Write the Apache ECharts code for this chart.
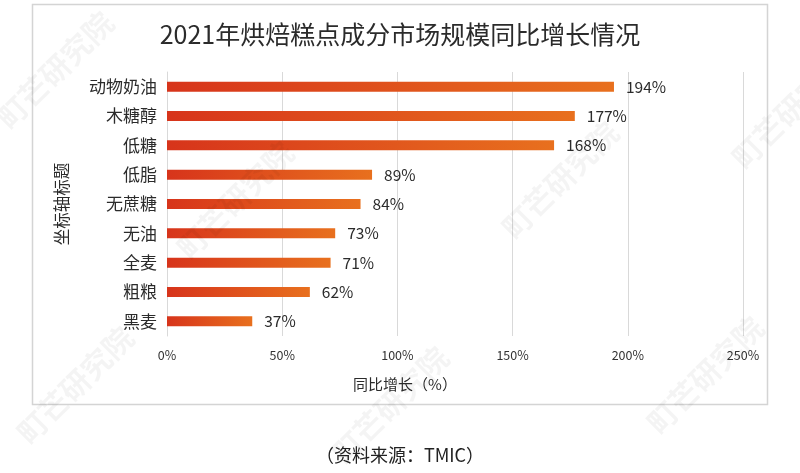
<!DOCTYPE html>
<html>
<head>
<meta charset="utf-8">
<script src="https://cdn.jsdelivr.net/npm/echarts@6/dist/echarts.min.js"></script>
<style>
html,body{margin:0;padding:0;background:#fff;}
#c{width:800px;height:473px;}
</style>
</head>
<body>
<div id="c"></div>
<script>
const categories = ['动物奶油','木糖醇','低糖','低脂','无蔗糖','无油','全麦','粗粮','黑麦'];
const growth = [194, 177, 168, 89, 84, 73, 71, 62, 37];
const xTicks = [0, 50, 100, 150, 200, 250];
const titleText = '2021年烘焙糕点成分市场规模同比增长情况';
const yName = '坐标轴标题';
const xName = '同比增长（%）';
const sourceText = '（资料来源：TMIC）';
const watermark = '町芒研究院';

const font = '"Noto Sans CJK SC", "Noto Sans", sans-serif';
const chart = echarts.init(document.getElementById('c'), null, {renderer: 'canvas'});

const wmPos = [[55,70],[235,200],[560,180],[790,110],[75,385],[390,405],[705,375]];
const wmGraphics = wmPos.map(p => ({
  type: 'text', x: p[0], y: p[1], rotation: Math.PI/4, z: 100,
  style: {text: watermark, font: 'bold 30px ' + font, fill: 'rgba(0,0,0,0.045)', textAlign: 'center', textVerticalAlign: 'middle'}
}));

chart.setOption({
  animation: false,
  backgroundColor: '#fff',
  title: {
    text: titleText, left: 'center', top: 17,
    textStyle: {fontFamily: font, fontSize: 25, fontWeight: 'normal', color: '#2b2b2b'}
  },
  grid: {left: 167, right: 57, top: 72, bottom: 137},
  xAxis: {
    type: 'value', min: xTicks[0], max: xTicks[xTicks.length-1], interval: 50,
    axisLine: {show: false}, axisTick: {show: false},
    axisLabel: {formatter: '{value}%', fontFamily: font, fontSize: 12.5, color: '#333', margin: 13},
    splitLine: {lineStyle: {color: '#d9d9d9', width: 1}}
  },
  yAxis: {
    type: 'category', data: categories, inverse: true,
    name: yName, nameLocation: 'middle', nameGap: 97, nameRotate: 90,
    nameTextStyle: {fontFamily: font, fontSize: 16.5, color: '#2b2b2b'},
    axisLine: {lineStyle: {color: '#d9d9d9'}}, axisTick: {show: false},
    axisLabel: {fontFamily: font, fontSize: 17, color: '#2b2b2b', margin: 10}
  },
  series: [{
    type: 'bar', data: growth, barWidth: 10,
    itemStyle: {
      color: new echarts.graphic.LinearGradient(0, 0, 1, 0, [
        {offset: 0, color: '#d7341b'}, {offset: 1, color: '#e8701e'}
      ])
    },
    label: {show: true, position: 'right', formatter: '{c}%', distance: 12,
      fontFamily: font, fontSize: 15.5, color: '#2b2b2b'}
  }],
  graphic: [
    {type: 'rect', shape: {x: 32.5, y: 4.5, width: 735, height: 400}, style: {fill: 'none', stroke: '#d4d4d4', lineWidth: 1.5}, z: -1},
    {type: 'text', x: 405, y: 384, style: {text: xName, font: '15px ' + font, fill: '#2b2b2b', textAlign: 'center', textVerticalAlign: 'middle'}},
    {type: 'text', x: 400, y: 455, style: {text: sourceText, font: '18px ' + font, fill: '#222', textAlign: 'center', textVerticalAlign: 'middle'}}
  ].concat(wmGraphics)
});
</script>
</body>
</html>
